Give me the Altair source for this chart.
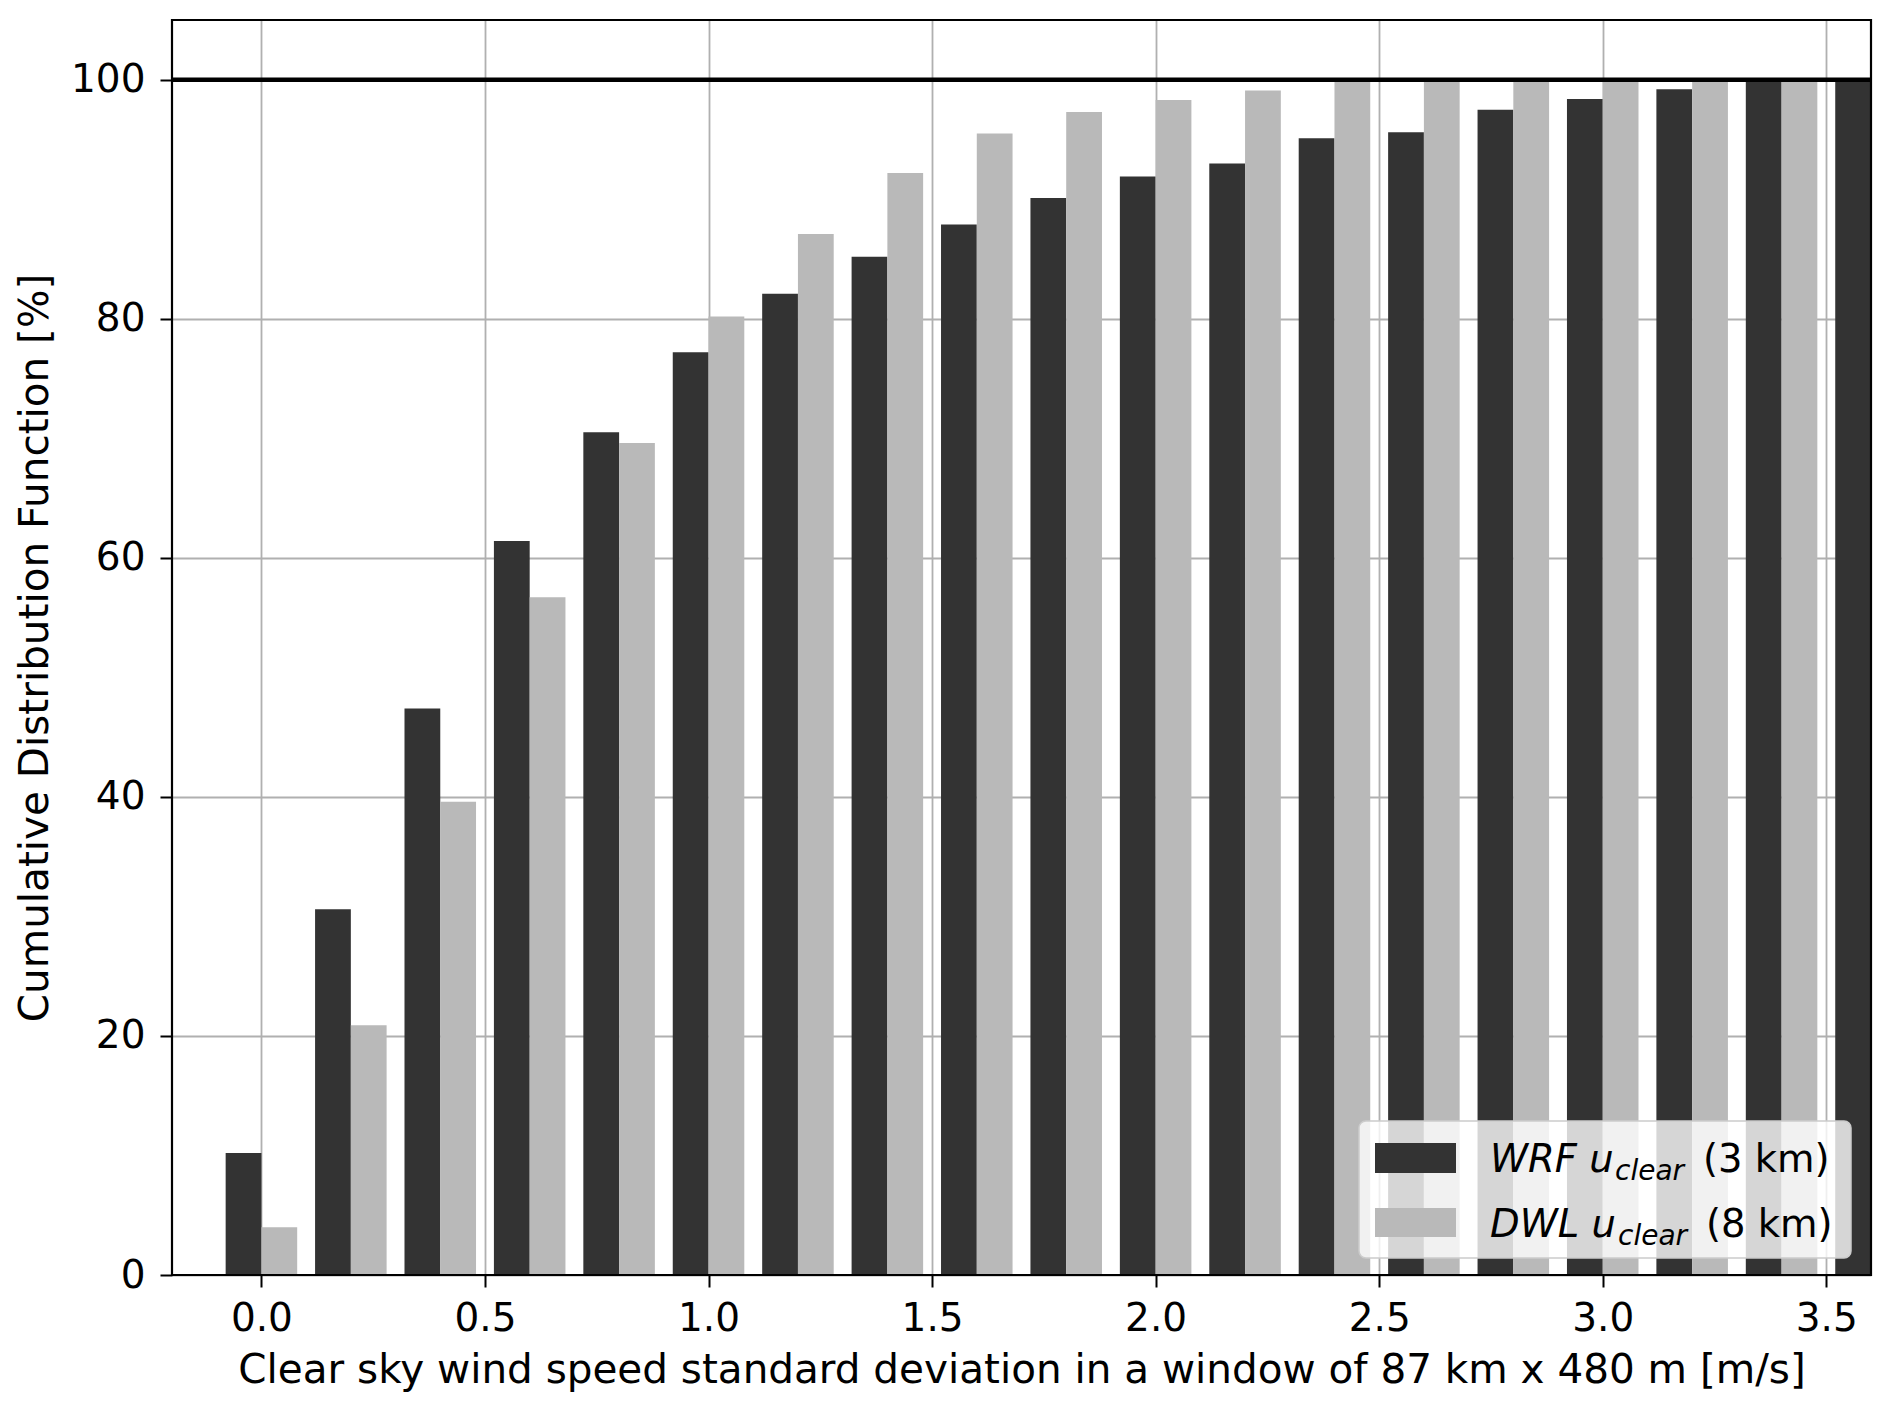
import altair as alt
import pandas as pd

# ---- data ----
positions = [0.0, 0.2, 0.4, 0.6, 0.8, 1.0, 1.2, 1.4, 1.6, 1.8,
             2.0, 2.2, 2.4, 2.6, 2.8, 3.0, 3.2, 3.4, 3.6]
wrf_cdf = [10.2, 30.6, 47.4, 61.4, 70.5, 77.2, 82.1, 85.2, 87.9, 90.1,
           91.9, 93.0, 95.1, 95.6, 97.5, 98.4, 99.2, 100.0, 100.0]
dwl_cdf = [4.0, 20.9, 39.6, 56.7, 69.6, 80.2, 87.1, 92.2, 95.5, 97.3,
           98.3, 99.1, 100.0, 100.0, 100.0, 100.0, 100.0, 100.0, 100.0]
x_ticks = [0.0, 0.5, 1.0, 1.5, 2.0, 2.5, 3.0, 3.5]
y_ticks = [0, 20, 40, 60, 80, 100]
series_names = ["WRF u", "DWL u"]
series_sub = ["clear", "clear"]
series_res = ["(3 km)", "(8 km)"]

# ---- styling ----
W, H = 1699, 1255
FONT = "DejaVu Sans"
FS_TICK = 39
FS_TITLE = 40.5
FS_LEG = 38.5
FS_SUB = 28
DARK = "#333333"
LIGHT = "#b9b9b9"
GRID = "#b0b0b0"

wrf_df = pd.DataFrame({"pos": positions, "cdf": wrf_cdf})
dwl_df = pd.DataFrame({"pos": positions, "cdf": dwl_cdf})
one = pd.DataFrame({"k": [0]})

x_scale = alt.Scale(domain=[-0.2, 3.6], nice=False, zero=False)
y_scale = alt.Scale(domain=[0, 105], nice=False, zero=True)

x_axis = alt.Axis(
    values=x_ticks, format=".1f",
    title="Clear sky wind speed standard deviation in a window of 87 km x 480 m [m/s]",
    grid=True, gridColor=GRID, gridWidth=1.8, domain=False,
    ticks=True, tickSize=12, tickWidth=2, tickColor="black",
    labelFont=FONT, labelFontSize=FS_TICK, labelColor="black", labelPadding=12,
    titleFont=FONT, titleFontSize=FS_TITLE, titleFontWeight="normal", titleColor="black",
    titlePadding=12, zindex=0,
)
y_axis = alt.Axis(
    values=y_ticks, format="d",
    title="Cumulative Distribution Function [%]",
    grid=True, gridColor=GRID, gridWidth=1.8, domain=False,
    ticks=True, tickSize=12, tickWidth=2, tickColor="black",
    labelFont=FONT, labelFontSize=FS_TICK, labelColor="black", labelPadding=15,
    titleFont=FONT, titleFontSize=FS_TITLE, titleFontWeight="normal", titleColor="black",
    titlePadding=14, zindex=0,
)

wrf_bars = alt.Chart(wrf_df).transform_calculate(
    x0="datum.pos - 0.08", x1="datum.pos"
).mark_bar(color=DARK, clip=True).encode(
    x=alt.X("x0:Q", scale=x_scale, axis=x_axis),
    x2="x1:Q",
    y=alt.Y("cdf:Q", scale=y_scale, axis=y_axis, stack=None),
    y2=alt.datum(0),
)

dwl_bars = alt.Chart(dwl_df).transform_calculate(
    x0="datum.pos", x1="datum.pos + 0.08"
).mark_bar(color=LIGHT, clip=True).encode(
    x=alt.X("x0:Q", scale=x_scale, axis=x_axis),
    x2="x1:Q",
    y=alt.Y("cdf:Q", scale=y_scale, axis=y_axis, stack=None),
    y2=alt.datum(0),
)

hundred = alt.Chart(one).mark_rule(color="black", strokeWidth=4.5).encode(
    y=alt.datum(100)
)

frame = alt.Chart(one).mark_rect(
    stroke="black", strokeWidth=2.2, fillOpacity=0, fill="white"
).encode(
    x=alt.value(0), x2=alt.value(W), y=alt.value(0), y2=alt.value(H)
)

# ---- legend (drawn inside the plot, lower right) ----
legend_box = alt.Chart(one).mark_rect(
    fill="white", fillOpacity=0.8, stroke="#cccccc", strokeWidth=1.5, cornerRadius=7
).encode(x=alt.value(1187), x2=alt.value(1679), y=alt.value(1101), y2=alt.value(1238))

patch_wrf = alt.Chart(one).mark_rect(color=DARK).encode(
    x=alt.value(1203), x2=alt.value(1284), y=alt.value(1123), y2=alt.value(1153))
patch_dwl = alt.Chart(one).mark_rect(color=LIGHT).encode(
    x=alt.value(1203), x2=alt.value(1284), y=alt.value(1188), y2=alt.value(1217))

def txt(s, x, y, size, italic):
    kw = dict(text=s, align="left", baseline="alphabetic", font=FONT,
              fontSize=size, color="black")
    if italic:
        kw["fontStyle"] = "italic"
    return alt.Chart(one).mark_text(**kw).encode(x=alt.value(x), y=alt.value(y))

legend_texts = [
    txt(series_names[0], 1318, 1152, FS_LEG, True),
    txt(series_sub[0], 1443, 1160, FS_SUB, True),
    txt(series_res[0], 1531, 1152, FS_LEG, False),
    txt(series_names[1], 1318, 1217, FS_LEG, True),
    txt(series_sub[1], 1446, 1225, FS_SUB, True),
    txt(series_res[1], 1534, 1217, FS_LEG, False),
]

chart = alt.layer(
    wrf_bars, dwl_bars, hundred, frame, legend_box, patch_wrf, patch_dwl, *legend_texts
).properties(
    width=W, height=H,
    autosize=alt.AutoSizeParams(type="none"),
    padding={"left": 164, "top": 12, "right": 5, "bottom": 128},
).configure_view(stroke=None)

chart.save("out.html", embed_options={"renderer": "svg", "actions": False})
